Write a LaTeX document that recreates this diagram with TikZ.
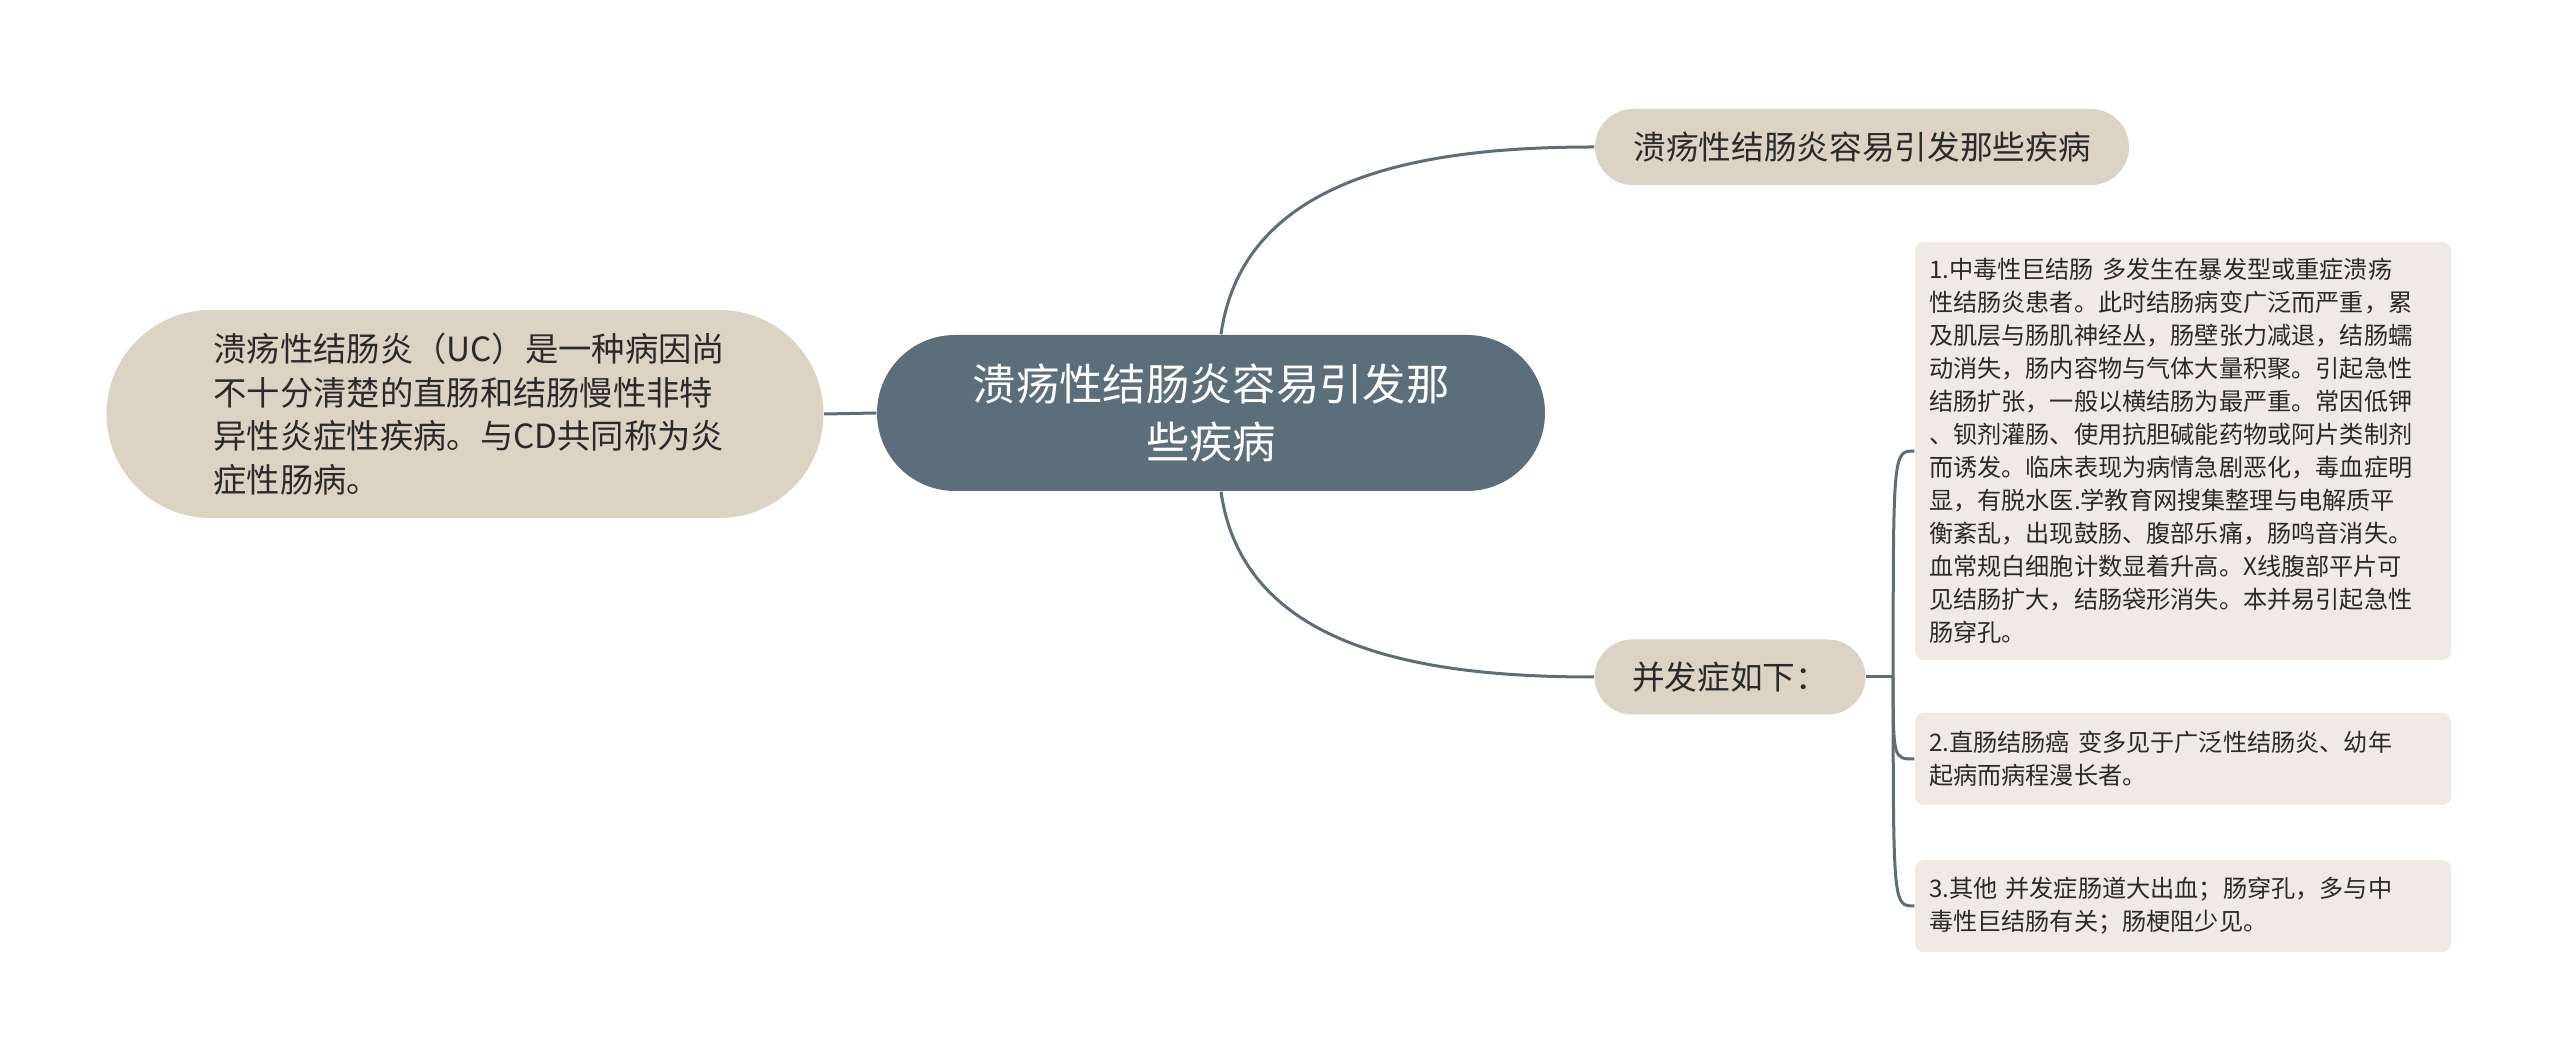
\documentclass[tikz,border=0pt]{standalone}
\usepackage{fontspec}
\setmainfont{Noto Sans CJK SC}
\usetikzlibrary{calc}
\definecolor{slate}{HTML}{5B6E7A}
\definecolor{beige}{HTML}{DDD3C4}
\definecolor{leafbg}{HTML}{EFEBE4}
\definecolor{ink}{HTML}{2A2A2A}
\begin{document}
\begin{tikzpicture}[x=0.3pt,y=-0.3pt,
  conn/.style={draw=slate,line width=0.9pt},
  centerbox/.style={fill=slate,text=white,rounded corners=23.4pt,minimum width=200.4pt,minimum height=46.8pt,align=center,inner sep=0pt,font=\fontsize{13}{17.2}\selectfont},
  pillbox/.style={fill=beige,text=ink,inner sep=0pt},
  leafbox/.style={fill=leafbg,text=ink,rounded corners=2.5pt,minimum width=160.8pt,inner sep=0pt,text width=152.4pt,align=left,font=\fontsize{7.25}{9.9}\selectfont}]
\useasboundingbox (0,0) rectangle (2560,1061);

\node[centerbox] (c) at (1211,413) {溃疡性结肠炎容易引发那\\些疾病};

\node[pillbox,rounded corners=31.2pt,minimum width=215.1pt,minimum height=62.4pt,text width=151pt,align=left,font=\fontsize{10}{13.1}\selectfont] (l) at (465,414)
 {溃疡性结肠炎（UC）是一种病因尚\\不十分清楚的直肠和结肠慢性非特\\异性炎症性疾病。与CD共同称为炎\\症性肠病。};

\node[pillbox,rounded corners=11.4pt,minimum width=160.2pt,minimum height=22.8pt,font=\fontsize{9.8}{12}\selectfont] (t) at (1862,147) {溃疡性结肠炎容易引发那些疾病};

\node[pillbox,rounded corners=11.25pt,minimum width=81.3pt,minimum height=22.5pt,font=\fontsize{9.8}{12}\selectfont] (p) at (1730,677) {并发症如下：};

\node[leafbox,minimum height=125.4pt] (a) at (2183,451)
 {1.中毒性巨结肠 多发生在暴发型或重症溃疡\\性结肠炎患者。此时结肠病变广泛而严重，累\\及肌层与肠肌神经丛，肠壁张力减退，结肠蠕\\动消失，肠内容物与气体大量积聚。引起急性\\结肠扩张，一般以横结肠为最严重。常因低钾\\、钡剂灌肠、使用抗胆碱能药物或阿片类制剂\\而诱发。临床表现为病情急剧恶化，毒血症明\\显，有脱水医.学教育网搜集整理与电解质平\\衡紊乱，出现鼓肠、腹部乐痛，肠鸣音消失。\\血常规白细胞计数显着升高。X线腹部平片可\\见结肠扩大，结肠袋形消失。本并易引起急性\\肠穿孔。};

\node[leafbox,minimum height=27.6pt] (b) at (2183,759)
 {2.直肠结肠癌 变多见于广泛性结肠炎、幼年\\起病而病程漫长者。};

\node[leafbox,minimum height=27.6pt] (d) at (2183,906)
 {3.其他 并发症肠道大出血；肠穿孔，多与中\\毒性巨结肠有关；肠梗阻少见。};

% connectors
\draw[conn] (c.west) -- (l.east);
\coordinate (ct) at ($(c.north)+(10,0)$);
\coordinate (cb) at ($(c.south)+(10,0)$);
\draw[conn] (ct) to[out=82,in=180] (t.west);
\draw[conn] (cb) to[out=-82,in=180] (p.west);
\coordinate (j) at ($(p.east)+(27,0)$);
\draw[conn] (p.east) -- (j);
\draw[conn] (j) .. controls (j |- a.west) .. (a.west);
\draw[conn] (j) .. controls (j |- b.west) .. (b.west);
\draw[conn] (j) .. controls (j |- d.west) .. (d.west);
\end{tikzpicture}
\end{document}
